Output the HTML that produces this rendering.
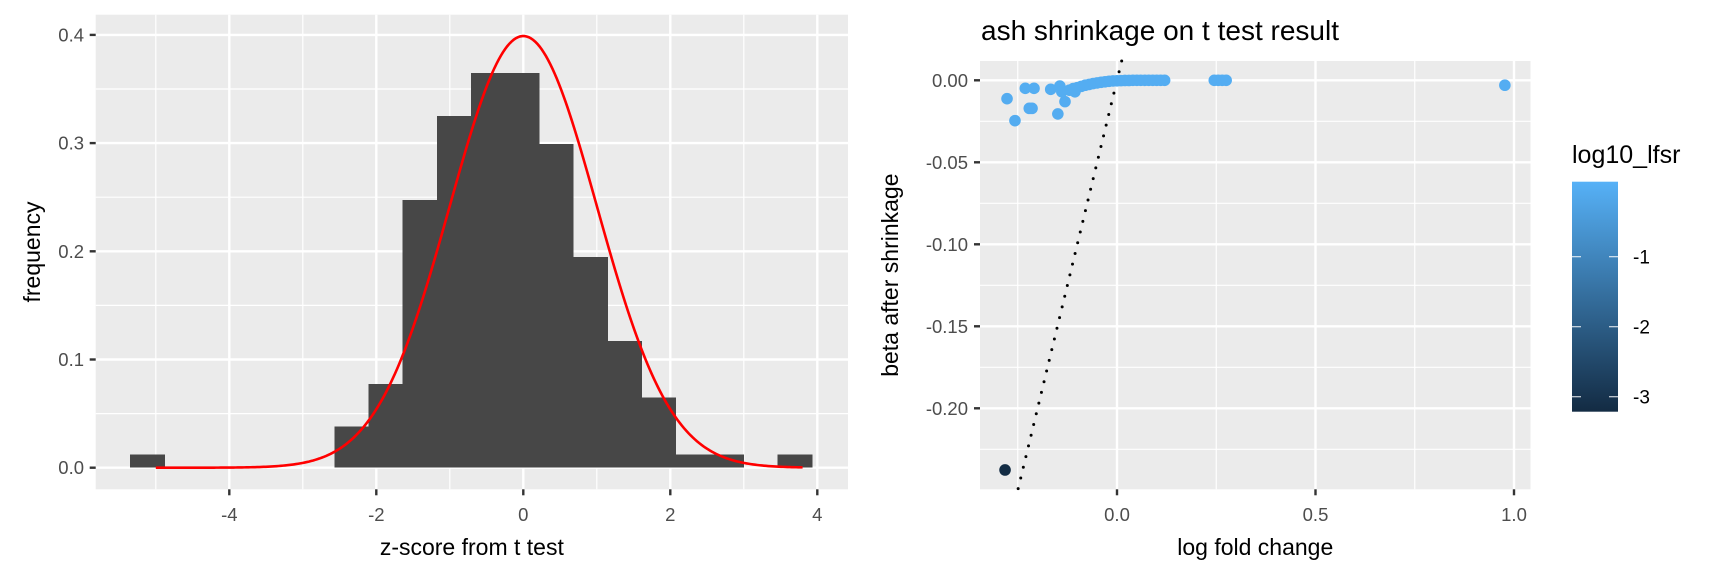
<!DOCTYPE html>
<html><head><meta charset="utf-8"><style>
html,body{margin:0;padding:0;background:#fff;}
svg{display:block;font-family:"Liberation Sans",Arial,sans-serif;}
</style></head><body>
<svg id="chart" width="1728" height="576" viewBox="0 0 1728 576" xmlns="http://www.w3.org/2000/svg">
<defs>
<linearGradient id="cbar" x1="0" y1="1" x2="0" y2="0">
<stop offset="0" stop-color="#132B43"/><stop offset="1" stop-color="#56B1F7"/>
</linearGradient>
</defs>
<g id="left"></g>
<g id="right"></g>
</svg>
<script>
// ---------- Histogram data ----------
const binStart = -5.35;
const binWidth = 0.4637;
const binHeights = [0.0122,0,0,0,0,0,0.038,0.0774,0.2475,0.325,0.3647,0.3647,0.2992,0.1946,0.117,0.0649,0.0122,0.0122,0,0.0122];
const histXTicks = [-4,-2,0,2,4];
const histYTicks = [0,0.1,0.2,0.3,0.4];
const normMean = [0];
const normSd = [1];
const curveRange = [-5, 3.8];

// ---------- Scatter data ----------
const lfcX = [-0.277,-0.257,-0.231,-0.209,-0.221,-0.214,-0.167,-0.144,-0.149,-0.131,-0.139,-0.106,-0.12,-0.11,-0.1,-0.09,-0.08,-0.07,-0.06,-0.05,-0.04,-0.03,-0.02,-0.01,0,0.01,0.02,0.03,0.04,0.05,0.06,0.07,0.08,0.09,0.1,0.11,0.12,0.245,0.255,0.265,0.275,0.977,-0.282];
const betaY = [-0.0112,-0.0246,-0.0049,-0.0049,-0.0171,-0.0171,-0.0055,-0.0035,-0.0205,-0.013,-0.007,-0.007,-0.006,-0.005,-0.0045,-0.0037,-0.003,-0.0025,-0.002,-0.0016,-0.0012,-0.0009,-0.0006,-0.0004,-0.0003,-0.0002,-0.0001,-0.0001,0,0,0,0,0,0,0,0,0,0,0,0,0,-0.003,-0.2376];
const lfsrVal = [-0.05,-0.05,-0.03,-0.03,-0.04,-0.04,-0.03,-0.03,-0.05,-0.04,-0.03,-0.03,-0.03,-0.03,-0.03,-0.03,-0.02,-0.02,-0.02,-0.02,-0.02,-0.02,-0.02,-0.02,-0.02,-0.02,-0.02,-0.02,-0.02,-0.02,-0.02,-0.02,-0.02,-0.02,-0.02,-0.02,-0.02,-0.02,-0.02,-0.02,-0.02,-0.02,-3.2];
const scXTicks = [0.0,0.5,1.0];
const scXTickLabels = ["0.0","0.5","1.0"];
const scYTicks = [0,-0.05,-0.10,-0.15,-0.20];
const scYTickLabels = ["0.00","-0.05","-0.10","-0.15","-0.20"];
const legendTicks = [-1,-2,-3];
const legendRange = [-3.214,0.071];

const NS="http://www.w3.org/2000/svg";
function mk(parent,tag,attrs,text){const e=document.createElementNS(NS,tag);for(const k in attrs)e.setAttribute(k,attrs[k]);if(text!==undefined)e.textContent=text;parent.appendChild(e);return e;}

// ---------- Left panel ----------
const L=document.getElementById('left');
const lx0=95.7,lx1=848,ly0=14.7,ly1=489.3;
const hx=v=>523.3+v*73.5;
const hy=v=>467.7-v*1082;
let r=mk(L,'rect',{x:lx0,y:ly0,width:lx1-lx0,height:ly1-ly0,fill:'#EBEBEB'});


[-5,-3,-1,1,3].forEach(v=>{mk(L,'line',{x1:hx(v),x2:hx(v),y1:ly0,y2:ly1,stroke:'#fff','stroke-width':1.2});});
[0.05,0.15,0.25,0.35].forEach(v=>{mk(L,'line',{x1:lx0,x2:lx1,y1:hy(v),y2:hy(v),stroke:'#fff','stroke-width':1.2});});
histXTicks.forEach(v=>{mk(L,'line',{x1:hx(v),x2:hx(v),y1:ly0,y2:ly1,stroke:'#fff','stroke-width':2.4});});
histYTicks.forEach(v=>{mk(L,'line',{x1:lx0,x2:lx1,y1:hy(v),y2:hy(v),stroke:'#fff','stroke-width':2.4});});
binHeights.forEach((h,i)=>{
  if(h<=0)return;
  const a=binStart+i*binWidth,b=a+binWidth;
  const bar=mk(L,'rect',{x:hx(a),y:hy(h),width:hx(b)-hx(a)+0.6,height:hy(0)-hy(h),fill:'#474747','shape-rendering':'crispEdges'});
  
  
});
let pts=[];
for(let i=0;i<=300;i++){const z=curveRange[0]+(curveRange[1]-curveRange[0])*i/300;const d=Math.exp(-0.5*Math.pow((z-normMean[0])/normSd[0],2))/(normSd[0]*Math.sqrt(2*Math.PI));pts.push(hx(z).toFixed(2)+','+hy(d).toFixed(2));}
const cur=mk(L,'polyline',{points:pts.join(' '),fill:'none',stroke:'#FF0000','stroke-width':2.6});


histXTicks.forEach(v=>{
  mk(L,'line',{x1:hx(v),x2:hx(v),y1:ly1,y2:ly1+6,stroke:'#333','stroke-width':2.4});
  const t=mk(L,'text',{x:hx(v),y:521,'text-anchor':'middle','font-size':18.5,fill:'#4D4D4D'},String(v));
  
  
});
histYTicks.forEach(v=>{
  mk(L,'line',{x1:lx0-6,x2:lx0,y1:hy(v),y2:hy(v),stroke:'#333','stroke-width':2.4});
  const t=mk(L,'text',{x:84,y:hy(v)+6.5,'text-anchor':'end','font-size':18.5,fill:'#4D4D4D'},v.toFixed(1));
  
  
});
let t=mk(L,'text',{x:(lx0+lx1)/2,y:555,'text-anchor':'middle','font-size':23,fill:'#000'},'z-score from t test');


t=mk(L,'text',{x:0,y:0,'text-anchor':'middle','font-size':23,fill:'#000',transform:`translate(40,${(ly0+ly1)/2}) rotate(-90)`},'frequency');



// ---------- Right panel ----------
const R=document.getElementById('right');
const rx0=980,rx1=1530.5,ry0=61,ry1=489.3;
const sx=v=>1117+v*397;
const sy=v=>80.3-v*1640;
r=mk(R,'rect',{x:rx0,y:ry0,width:rx1-rx0,height:ry1-ry0,fill:'#EBEBEB'});


[-0.25,0.25,0.75].forEach(v=>{mk(R,'line',{x1:sx(v),x2:sx(v),y1:ry0,y2:ry1,stroke:'#fff','stroke-width':1.2});});
[-0.025,-0.075,-0.125,-0.175,-0.225,-0.25].forEach(v=>{mk(R,'line',{x1:rx0,x2:rx1,y1:sy(v),y2:sy(v),stroke:'#fff','stroke-width':1.2});});
scXTicks.forEach(v=>{mk(R,'line',{x1:sx(v),x2:sx(v),y1:ry0,y2:ry1,stroke:'#fff','stroke-width':2.4});});
scYTicks.forEach(v=>{mk(R,'line',{x1:rx0,x2:rx1,y1:sy(v),y2:sy(v),stroke:'#fff','stroke-width':2.4});});
const yTop=(80.3-ry0)/1640, yBot=-(ry1-80.3)/1640;
const ab=mk(R,'line',{x1:sx(yTop),y1:sy(yTop),x2:sx(yBot),y2:sy(yBot),stroke:'#000','stroke-width':3,'stroke-linecap':'round','stroke-dasharray':'0 11'});


function colorFor(v){
  const t=Math.max(0,Math.min(1,(v-legendRange[0])/(legendRange[1]-legendRange[0])));
  const a=[0x13,0x2B,0x43],b=[0x56,0xB1,0xF7];
  return 'rgb('+a.map((c,i)=>Math.round(c+(b[i]-c)*t)).join(',')+')';
}
lfcX.forEach((x,i)=>{
  const c=mk(R,'circle',{cx:sx(x),cy:sy(betaY[i]),r:5.8,fill:colorFor(lfsrVal[i])});
  
  
});
scXTicks.forEach((v,i)=>{
  mk(R,'line',{x1:sx(v),x2:sx(v),y1:ry1,y2:ry1+6,stroke:'#333','stroke-width':2.4});
  const t=mk(R,'text',{x:sx(v),y:521,'text-anchor':'middle','font-size':18.5,fill:'#4D4D4D'},scXTickLabels[i]);
  
  
});
scYTicks.forEach((v,i)=>{
  mk(R,'line',{x1:rx0-6,x2:rx0,y1:sy(v),y2:sy(v),stroke:'#333','stroke-width':2.4});
  const t=mk(R,'text',{x:968,y:sy(v)+6.5,'text-anchor':'end','font-size':18.5,fill:'#4D4D4D'},scYTickLabels[i]);
  
  
});
t=mk(R,'text',{x:981,y:40,'font-size':28,fill:'#000'},'ash shrinkage on t test result');


t=mk(R,'text',{x:(rx0+rx1)/2,y:555,'text-anchor':'middle','font-size':23,fill:'#000'},'log fold change');


t=mk(R,'text',{x:0,y:0,'text-anchor':'middle','font-size':23,fill:'#000',transform:`translate(898,${(ry0+ry1)/2}) rotate(-90)`},'beta after shrinkage');



// ---------- Legend ----------
const lgTop=181.7,lgBot=411.7,lgX=1572,lgW=46;
const ly=v=>lgTop+(legendRange[1]-v)/(legendRange[1]-legendRange[0])*(lgBot-lgTop);
t=mk(R,'text',{x:1572,y:163,'font-size':25,fill:'#000'},'log10_lfsr');


const cb=mk(R,'rect',{x:lgX,y:lgTop,width:lgW,height:lgBot-lgTop,fill:'url(#cbar)'});


legendTicks.forEach(v=>{
  mk(R,'line',{x1:lgX,x2:lgX+9,y1:ly(v),y2:ly(v),stroke:'#fff','stroke-width':1.2,'stroke-opacity':0.8});
  mk(R,'line',{x1:lgX+lgW-9,x2:lgX+lgW,y1:ly(v),y2:ly(v),stroke:'#fff','stroke-width':1.2,'stroke-opacity':0.8});
  const t=mk(R,'text',{x:1633,y:ly(v)+7,'font-size':19,fill:'#000'},String(v));
  
  
});
</script>
</body></html>
